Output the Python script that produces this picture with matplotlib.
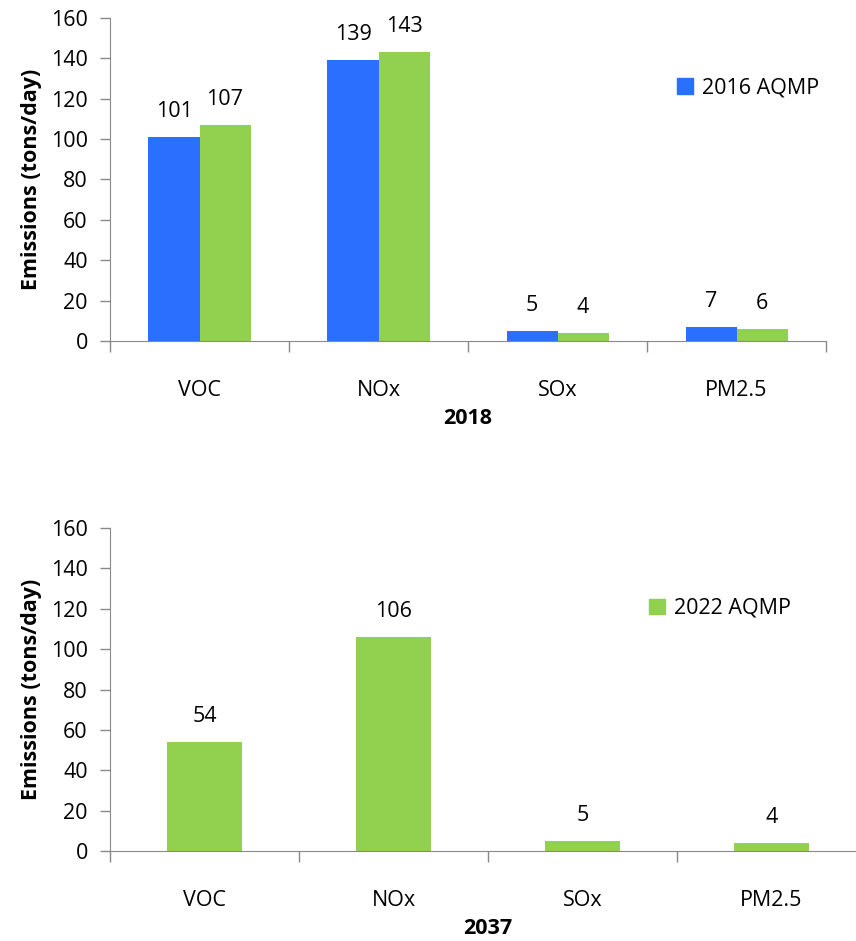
import matplotlib
matplotlib.use("Agg")
import matplotlib.pyplot as plt
import numpy as np
from matplotlib.patches import Patch

plt.rcParams['font.family'] = ['Open Sans', 'DejaVu Sans']

categories = ["VOC", "NOx", "SOx", "PM2.5"]
top_2016 = [101, 139, 5, 7]
top_2022 = [107, 143, 4, 6]
bottom_2022 = [54, 106, 5, 4]
yticks = [0, 20, 40, 60, 80, 100, 120, 140, 160]

BLUE = "#2B6FFF"
GREEN = "#92D050"
GRAY = "#898989"
FS = 15.5

fig = plt.figure(figsize=(8.56, 9.41), dpi=100)
ax1 = fig.add_axes([0.1285, 0.6376, 0.8365, 0.3433])
ax2 = fig.add_axes([0.1285, 0.0956, 0.883, 0.3433])

def style(ax):
    ax.set_ylim(0, 160)
    ax.set_xlim(-0.5, len(categories) - 0.5)
    ax.set_yticks(yticks)
    ax.tick_params(axis='y', length=7, width=1, color=GRAY, labelsize=FS, pad=9)
    ax.set_xticks(np.arange(len(categories) + 1) - 0.5)
    ax.set_xticklabels([])
    ax.set_xticks(np.arange(len(categories)), minor=True)
    ax.set_xticklabels(categories, minor=True, fontsize=FS)
    ax.tick_params(axis='x', which='major', length=8, width=1, color=GRAY)
    ax.tick_params(axis='x', which='minor', length=0, pad=28)
    for s in ['top', 'right']:
        ax.spines[s].set_visible(False)
    for s in ['left', 'bottom']:
        ax.spines[s].set_color(GRAY)
    ax.set_ylabel("Emissions (tons/day)", fontsize=FS, fontweight='bold', labelpad=6)

x = np.arange(len(categories))
w = 0.285
b1 = ax1.bar(x - w / 2, top_2016, width=w, color=BLUE)
b2 = ax1.bar(x + w / 2, top_2022, width=w, color=GREEN)
for bars, vals in ((b1, top_2016), (b2, top_2022)):
    for r, v in zip(bars, vals):
        ax1.text(r.get_x() + r.get_width() / 2, v + 7.5, str(v), ha='center', va='bottom', fontsize=FS)
style(ax1)
ax1.set_xlabel("2018", fontsize=FS, fontweight='bold', labelpad=5)
ax1.legend(handles=[Patch(color=BLUE, label="2016 AQMP")], loc='upper right',
           bbox_to_anchor=(1.002, 0.842), frameon=False, fontsize=FS, borderaxespad=0,
           handlelength=0.75, handleheight=0.75, handletextpad=0.4)

wb = 0.4
b3 = ax2.bar(x, bottom_2022, width=wb, color=GREEN)
for r, v in zip(b3, bottom_2022):
    ax2.text(r.get_x() + r.get_width() / 2, v + 7.5, str(v), ha='center', va='bottom', fontsize=FS)
style(ax2)
ax2.set_xlabel("2037", fontsize=FS, fontweight='bold', labelpad=5)
ax2.legend(handles=[Patch(color=GREEN, label="2022 AQMP")], loc='upper right',
           bbox_to_anchor=(0.912, 0.81), frameon=False, fontsize=FS, borderaxespad=0,
           handlelength=0.75, handleheight=0.75, handletextpad=0.4)

fig.savefig("out.png", dpi=100)
